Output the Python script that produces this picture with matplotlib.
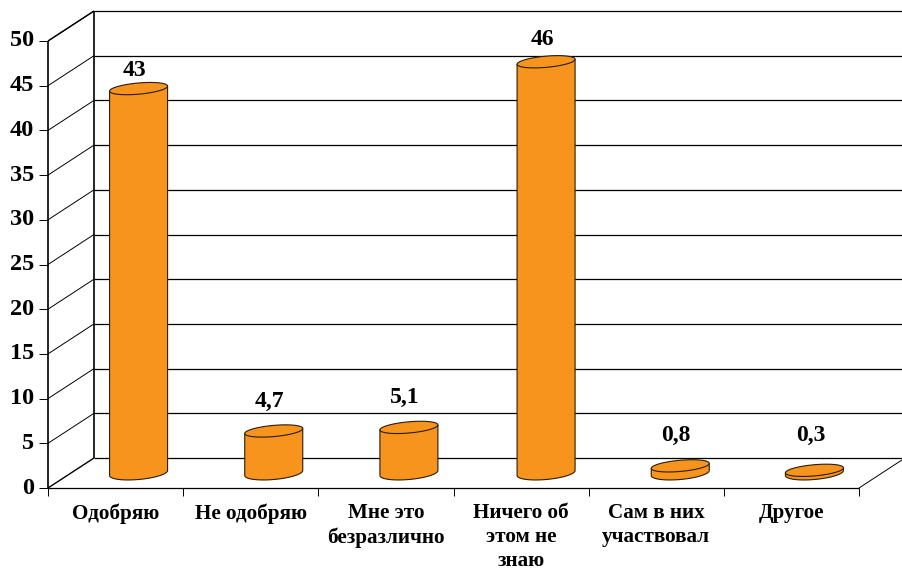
import matplotlib
matplotlib.use('Agg')
import matplotlib.pyplot as plt
import numpy as np

## data
categories = ['Одобряю', 'Не одобряю', 'Мне это\nбезразлично', 'Ничего об\nэтом не\nзнаю', 'Сам в них\nучаствовал', 'Другое']
values = [43, 4.7, 5.1, 46, 0.8, 0.3]
value_labels = ['43', '4,7', '5,1', '46', '0,8', '0,3']
y_ticks = [0, 5, 10, 15, 20, 25, 30, 35, 40, 45, 50]

W, H = 902, 571
L, R, T, B = 48, 859, 41, 488   # front plane in pixels
DX, DY = 46, 30                 # depth of the box in pixels

plt.rcParams['font.family'] = ['Liberation Serif', 'DejaVu Serif']
plt.rcParams['font.weight'] = 'bold'

fig = plt.figure(figsize=(W / 100, H / 100), dpi=100)
ax = fig.add_axes([L / W, (H - B) / H, (R - L) / W, (B - T) / H])
ax.set_xlim(0, len(categories))
ax.set_ylim(0, 50)
ax.axis('off')

# one pixel in data units
ux = len(categories) / (R - L)
uy = 50 / (B - T)
depth_x = DX * ux
depth_y = DY * uy


def line(xs, ys, lw=0.9):
    ax.plot(xs, ys, color='black', lw=lw, clip_on=False, solid_capstyle='butt', zorder=1)


## walls and grid
xmax = len(categories)
for v in y_ticks:
    if v > 0:
        line([depth_x, xmax + depth_x], [v + depth_y, v + depth_y], 0.9)
        line([0, depth_x], [v, v + depth_y], 0.7)
    line([-9 * ux, 0], [v, v], 0.7)
    ax.text(-14 * ux, v, str(v), ha='right', va='center', fontsize=17.5, clip_on=False)

line([depth_x, xmax + depth_x], [depth_y, depth_y], 0.9)
line([0, depth_x], [0, depth_y], 1.0)
line([xmax, xmax + depth_x], [0, depth_y], 0.7)
line([0, xmax], [0, 0], 0.9)
line([0, 0], [0, 50], 1.2)
line([depth_x, depth_x], [depth_y, 50 + depth_y], 1.2)
line([0, depth_x], [50, 50 + depth_y], 1.0)
for i in range(len(categories) + 1):
    line([i, i], [0, -8 * uy], 0.7)

## cylinders
rx = 29 * ux
ry = 5.6 * uy
ry_low = 6.5 * uy
slope = 2.5 * uy / rx   # ellipses lean up to the right
t = np.linspace(0, 2 * np.pi, 121)
tb = np.linspace(np.pi, 2 * np.pi, 61)
label_gap = [18, 30, 30, 22, 30, 35]
bar_shift = [0, 0, 0, 2, 1, 0]

for i, v in enumerate(values):
    cx = i + 0.5 + depth_x / 2 + bar_shift[i] * ux
    y0 = depth_y / 2
    # body: top edge straight, bottom half of the lower ellipse
    bx = cx + rx * np.cos(tb)
    by = y0 - ry_low * np.abs(np.sin(tb)) + slope * rx * np.cos(tb)
    xs = np.concatenate([bx, [cx + rx, cx - rx]])
    ys = np.concatenate([by, [y0 + v + slope * rx, y0 + v - slope * rx]])
    ax.fill(xs, ys, facecolor='#F7941D', edgecolor='#2b1c08', lw=0.8, clip_on=False, zorder=3)
    # top ellipse
    ex = cx + rx * np.cos(t)
    ey = y0 + v + ry * np.sin(t) + slope * rx * np.cos(t)
    ax.fill(ex, ey, facecolor='#F7941D', edgecolor='#2b1c08', lw=0.8, clip_on=False, zorder=4)
    ax.text(cx - 4 * ux, y0 + v + label_gap[i] * uy, value_labels[i], ha='center', va='center',
            fontsize=17, clip_on=False, zorder=5)

## category labels
for i, name in enumerate(categories):
    ax.text(i + 0.5, -15 * uy, name, ha='center', va='top', fontsize=15.2, linespacing=1.27, clip_on=False)

fig.savefig('out.png', dpi=100, facecolor='white')
